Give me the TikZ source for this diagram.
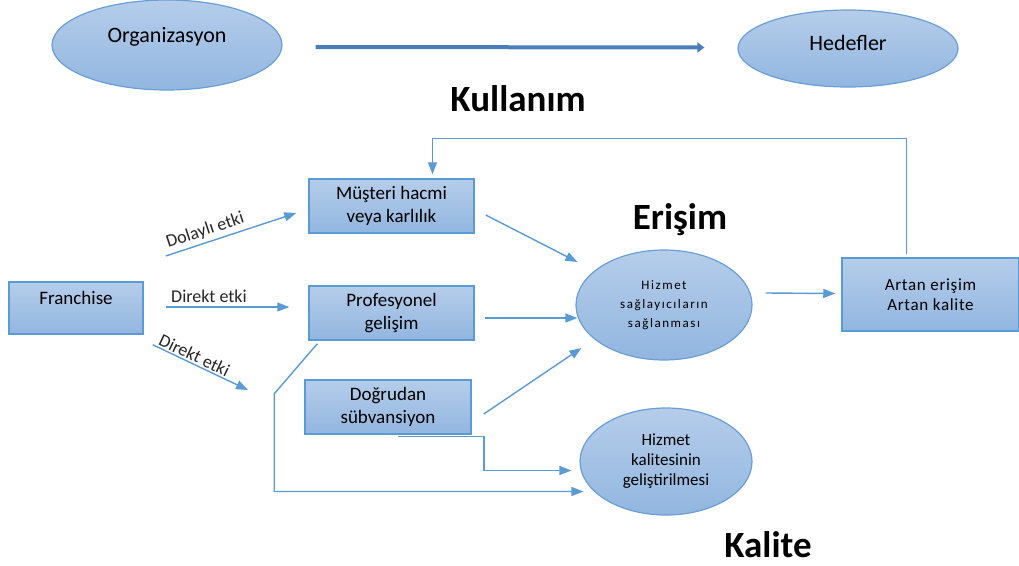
\documentclass[tikz,border=0pt]{standalone}
\usepackage{fontspec}
\setmainfont{Carlito}
\newfontfamily\spacedfont[LetterSpace=12]{Carlito}
\newfontfamily\widefont[LetterSpace=4]{Carlito}
\usetikzlibrary{shapes.geometric,arrows.meta}
\definecolor{edgeblue}{HTML}{6A9FD6}
\definecolor{fillhi}{HTML}{B5CDEA}
\definecolor{filllo}{HTML}{92B6E0}
\definecolor{arrowblue}{HTML}{5B9BD5}
\definecolor{bigblue}{HTML}{4A7EBB}
\begin{document}
\begin{tikzpicture}[x=1pt, y=-1pt,
  oval/.style={ellipse, draw=edgeblue, line width=1.2pt, top color=fillhi, bottom color=filllo, inner sep=0pt, align=center, text=black},
  box/.style={rectangle, draw=arrowblue, line width=1.5pt, top color=fillhi, bottom color=filllo, inner sep=0pt, align=center, text=black, font=\fontsize{19}{23}\selectfont},
  link/.style={-{Triangle[length=12pt,width=9pt]}, draw=arrowblue, line width=1.4pt},
  bigarrow/.style={-{Triangle[length=7pt,width=10pt]}, draw=bigblue, line width=4pt},
  effect/.style={font=\fontsize{18}{20}\selectfont, text=black!85},
  title/.style={font=\fontsize{37}{40}\selectfont\bfseries, text height=25, text depth=2}]

\useasboundingbox (0,0) rectangle (1019,565);

\node[oval, minimum width=230, minimum height=90, text height=14, text depth=20, font=\fontsize{22}{26}\selectfont] (org) at (167,45) {Organizasyon};
\node[oval, minimum width=220, minimum height=77, text height=14, text depth=11, font=\fontsize{22}{26}\selectfont] (hedef) at (848,48.5) {Hedefler};
\draw[bigarrow] ([shift={(33,2)}]org.east) -- ([shift={(-33,-1)}]hedef.west);

\node[title] (kullanim) at (518,100) {Kullanım};
\node[title] (erisim) at (680,218) {Erişim};
\node[title] (kalite) at (768,546) {Kalite};

\node[box, minimum width=134, minimum height=52, text height=13, text depth=21] (franchise) at (76,308) {Franchise};
\node[box, minimum width=165, minimum height=54] (musteri) at (391.5,206) {Müşteri hacmi\\veya karlılık};
\node[box, minimum width=165, minimum height=54] (profesyonel) at (391.5,313) {Profesyonel\\gelişim};
\node[box, minimum width=166, minimum height=54] (dogrudan) at (388,407) {Doğrudan\\sübvansiyon};
\node[box, minimum width=177, minimum height=73, font=\widefont\fontsize{17}{20}\selectfont] (artan) at (930.5,294.5) {Artan erişim\\Artan kalite};

\node[oval, minimum width=176, minimum height=110, font=\spacedfont\fontsize{13}{19}\selectfont] (saglama) at (664,305) {Hizmet\\sağlayıcıların\\sağlanması};
\node[oval, minimum width=172, minimum height=107, font=\fontsize{17}{20}\selectfont] (kalitegel) at (666,461.5) {Hizmet\\kalitesinin\\geliştirilmesi};

\coordinate (dirend) at (248,390);

\draw[link] ([shift={(22,-52)}]franchise.east) -- node[effect, sloped, above, pos=0.33] {Dolaylı etki} ([shift={(-12,7)}]musteri.west);
\draw[link] ([shift={(22,-1)}]franchise.east) -- node[effect, above, pos=0.35] {Direkt etki} ([shift={(-19,-6)}]profesyonel.west);
\draw[link] ([shift={(9,10)}]franchise.south east) -- node[effect, sloped, above, inner sep=1.5pt, pos=0.4] {Direkt etki} (dirend);

\draw[link] ([shift={(11,9)}]musteri.east) -- ([shift={(2,-43)}]saglama.west);
\draw[link] ([shift={(10,5)}]profesyonel.east) -- ([shift={(2,13)}]saglama.west);
\draw[link] ([shift={(12,7)}]dogrudan.east) -- ([shift={(6,43)}]saglama.west);
\draw[link] ([shift={(13,-12)}]saglama.east) -- ([shift={(-6,-1)}]artan.west);

\draw[link] ([shift={(-24,-3)}]artan.north) -- ++(0,-116) -| ([shift={(41,-4)}]musteri.north);
\draw[link] ([shift={(9,3)}]profesyonel.south west) -- ++(-43,50) |- ([shift={(4,30)}]kalitegel.west);
\draw[link] ([shift={(10,2)}]dogrudan.south) -- ++(86,0) |- ([shift={(-8,9)}]kalitegel.west);

\end{tikzpicture}
\end{document}
